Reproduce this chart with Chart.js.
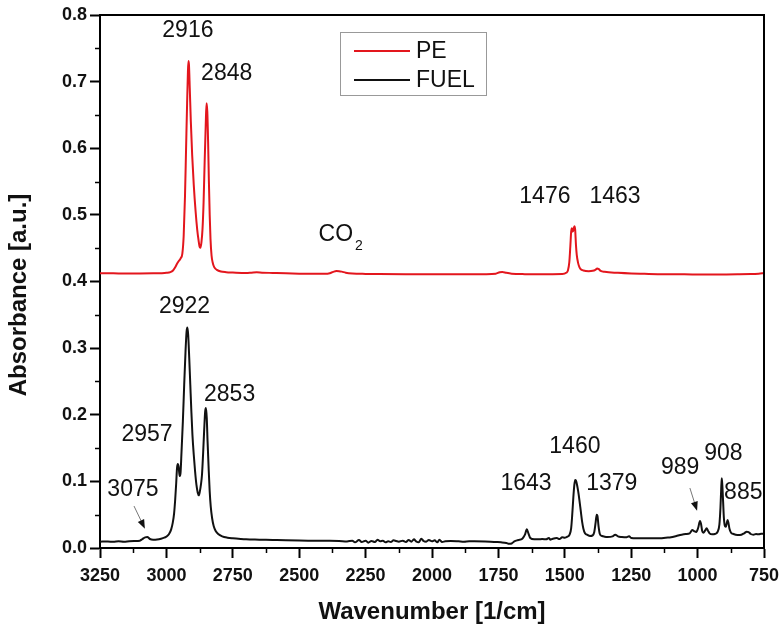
<!DOCTYPE html>
<html>
<head>
<meta charset="utf-8">
<script src="https://cdn.jsdelivr.net/npm/chart.js@4.4.1/dist/chart.umd.min.js"></script>
<style>
  html, body { margin: 0; padding: 0; background: #fff; }
  #wrap { width: 781px; height: 627px; }
</style>
</head>
<body>
<div id="wrap"><canvas id="chartFtir" width="781" height="627"></canvas></div>
<script>
// PE film spectrum
const peWave = [
  3250, 3200, 3150, 3100, 3050, 3020, 3000, 2985, 2975, 2968, 2960, 2952, 2946, 2940, 2935,
  2930, 2926, 2922, 2919, 2917, 2915, 2912, 2908, 2903, 2897, 2890, 2884, 2879, 2875, 2872,
  2868, 2864, 2860, 2856, 2852, 2849, 2846, 2843, 2840, 2837, 2834, 2830, 2826, 2820, 2810,
  2795, 2775, 2750, 2700, 2680, 2660, 2640, 2600, 2550, 2500, 2450, 2400, 2385, 2372, 2360,
  2350, 2340, 2325, 2300, 2250, 2200, 2100, 2000, 1900, 1800, 1760, 1745, 1735, 1720, 1700,
  1650, 1600, 1550, 1510, 1495, 1488, 1483, 1479, 1476, 1473, 1470, 1467, 1464, 1461, 1458,
  1455, 1450, 1445, 1440, 1430, 1410, 1395, 1385, 1378, 1372, 1365, 1350, 1300, 1250, 1200,
  1150, 1100, 1050, 1000, 950, 900, 850, 800, 770, 750
];
const peAbs = [
  0.4123, 0.4122, 0.4120, 0.4120, 0.4122, 0.4125, 0.4130, 0.4140, 0.4165, 0.4205, 0.4265, 0.4315, 0.4350, 0.4420, 0.4680,
  0.5280, 0.5980, 0.6680, 0.7140, 0.7310, 0.7250, 0.6900, 0.6400, 0.5900, 0.5450, 0.5050, 0.4780, 0.4620, 0.4520, 0.4505,
  0.4590, 0.4790, 0.5190, 0.5790, 0.6340, 0.6675, 0.6550, 0.6100, 0.5500, 0.5000, 0.4640, 0.4390, 0.4290, 0.4215, 0.4175,
  0.4150, 0.4140, 0.4135, 0.4128, 0.4132, 0.4137, 0.4133, 0.4128, 0.4122, 0.4118, 0.4115, 0.4115, 0.4125, 0.4145, 0.4157,
  0.4155, 0.4148, 0.4132, 0.4120, 0.4114, 0.4112, 0.4110, 0.4110, 0.4108, 0.4110, 0.4118, 0.4140, 0.4143, 0.4130, 0.4118,
  0.4110, 0.4108, 0.4110, 0.4112, 0.4130, 0.4170, 0.4290, 0.4540, 0.4750, 0.4800, 0.4750, 0.4780, 0.4830, 0.4780, 0.4550,
  0.4400, 0.4280, 0.4215, 0.4185, 0.4165, 0.4155, 0.4160, 0.4175, 0.4195, 0.4185, 0.4160, 0.4145, 0.4130, 0.4120, 0.4115,
  0.4110, 0.4108, 0.4108, 0.4106, 0.4105, 0.4106, 0.4108, 0.4112, 0.4118, 0.4125
];

// fuel oil spectrum
const fuelWave = [
  3250, 3220, 3200, 3180, 3160, 3140, 3120, 3100, 3090, 3080, 3072, 3062, 3050, 3035, 3020,
  3008, 2998, 2990, 2982, 2976, 2971, 2967, 2963, 2960, 2957, 2954, 2950, 2947, 2943, 2938,
  2933, 2928, 2924, 2921, 2918, 2914, 2910, 2906, 2902, 2897, 2892, 2887, 2882, 2878, 2874,
  2870, 2866, 2862, 2858, 2854, 2851, 2848, 2845, 2841, 2837, 2833, 2828, 2822, 2815, 2805,
  2790, 2770, 2750, 2720, 2700, 2650, 2600, 2550, 2500, 2450, 2400, 2350, 2320, 2300, 2290,
  2275, 2265, 2250, 2240, 2228, 2215, 2205, 2195, 2185, 2175, 2165, 2155, 2145, 2135, 2125,
  2110, 2098, 2088, 2078, 2068, 2060, 2050, 2040, 2032, 2022, 2012, 2000, 1990, 1980, 1972,
  1962, 1950, 1930, 1900, 1880, 1860, 1840, 1800, 1780, 1760, 1740, 1720, 1710, 1700, 1690,
  1675, 1660, 1650, 1643, 1637, 1630, 1615, 1600, 1585, 1570, 1560, 1555, 1545, 1530, 1520,
  1510, 1500, 1490, 1482, 1476, 1472, 1468, 1464, 1461, 1458, 1454, 1450, 1445, 1440, 1435,
  1430, 1424, 1416, 1405, 1395, 1389, 1384, 1380, 1377, 1373, 1368, 1360, 1350, 1340, 1320,
  1310, 1300, 1285, 1270, 1258, 1250, 1230, 1200, 1170, 1140, 1120, 1100, 1080, 1060, 1045,
  1030, 1020, 1012, 1005, 998, 991, 987, 983, 978, 972, 966, 961, 955, 945, 935,
  925, 918, 914, 911, 909, 907, 904, 901, 897, 893, 890, 887, 884, 880, 874,
  865, 850, 835, 825, 815, 808, 800, 790, 780, 770, 760, 750
];
const fuelAbs = [
  0.0095, 0.0098, 0.0092, 0.0100, 0.0095, 0.0102, 0.0105, 0.0110, 0.0135, 0.0160, 0.0165, 0.0135, 0.0125, 0.0128, 0.0140,
  0.0155, 0.0175, 0.0210, 0.0280, 0.0380, 0.0520, 0.0720, 0.0980, 0.1200, 0.1260, 0.1220, 0.1080, 0.1120, 0.1450, 0.1900,
  0.2450, 0.2950, 0.3250, 0.3310, 0.3200, 0.2850, 0.2450, 0.2050, 0.1700, 0.1400, 0.1150, 0.0950, 0.0830, 0.0790, 0.0850,
  0.0950, 0.1100, 0.1400, 0.1750, 0.2050, 0.2100, 0.1950, 0.1600, 0.1200, 0.0850, 0.0620, 0.0450, 0.0330, 0.0260, 0.0210,
  0.0175, 0.0155, 0.0145, 0.0135, 0.0130, 0.0125, 0.0120, 0.0115, 0.0112, 0.0110, 0.0108, 0.0105, 0.0098, 0.0110, 0.0085,
  0.0120, 0.0090, 0.0110, 0.0080, 0.0105, 0.0090, 0.0125, 0.0100, 0.0110, 0.0085, 0.0100, 0.0090, 0.0115, 0.0105, 0.0095,
  0.0110, 0.0090, 0.0120, 0.0095, 0.0130, 0.0100, 0.0085, 0.0140, 0.0105, 0.0095, 0.0120, 0.0100, 0.0115, 0.0085, 0.0125,
  0.0090, 0.0100, 0.0105, 0.0100, 0.0095, 0.0100, 0.0100, 0.0098, 0.0095, 0.0090, 0.0085, 0.0075, 0.0062, 0.0068, 0.0100,
  0.0120, 0.0140, 0.0200, 0.0280, 0.0220, 0.0150, 0.0130, 0.0130, 0.0135, 0.0130, 0.0150, 0.0125, 0.0140, 0.0150, 0.0135,
  0.0160, 0.0155, 0.0170, 0.0200, 0.0300, 0.0500, 0.0750, 0.0950, 0.1020, 0.1010, 0.0950, 0.0860, 0.0720, 0.0560, 0.0400,
  0.0290, 0.0220, 0.0200, 0.0180, 0.0190, 0.0240, 0.0380, 0.0500, 0.0480, 0.0330, 0.0210, 0.0180, 0.0170, 0.0165, 0.0175,
  0.0200, 0.0175, 0.0165, 0.0160, 0.0175, 0.0150, 0.0145, 0.0145, 0.0145, 0.0145, 0.0155, 0.0160, 0.0180, 0.0200, 0.0210,
  0.0220, 0.0270, 0.0250, 0.0240, 0.0300, 0.0405, 0.0360, 0.0260, 0.0230, 0.0260, 0.0295, 0.0260, 0.0220, 0.0205, 0.0210,
  0.0240, 0.0350, 0.0600, 0.0900, 0.1046, 0.0950, 0.0700, 0.0450, 0.0330, 0.0320, 0.0380, 0.0420, 0.0380, 0.0290, 0.0230,
  0.0210, 0.0195, 0.0200, 0.0220, 0.0245, 0.0240, 0.0210, 0.0200, 0.0210, 0.0205, 0.0215, 0.0215
];

const seriesNames = ["PE", "FUEL"];
const seriesColors = ["#e3161d", "#111111"];

// band assignments written next to the peaks (wavenumber, absorbance of the text centre)
const peakNotes = [
  { text: "2916", w: 2919, a: 0.777 },
  { text: "2848", w: 2773, a: 0.712 },
  { text: "1476", w: 1575, a: 0.527 },
  { text: "1463", w: 1311, a: 0.527 },
  { text: "2922", w: 2932, a: 0.362 },
  { text: "2853", w: 2762, a: 0.230 },
  { text: "2957", w: 3073, a: 0.170 },
  { text: "3075", w: 3126, a: 0.088 },
  { text: "1460", w: 1462, a: 0.152 },
  { text: "1643", w: 1646, a: 0.097 },
  { text: "1379", w: 1323, a: 0.097 },
  { text: "989",  w: 1066, a: 0.120 },
  { text: "908",  w: 903,  a: 0.142 },
  { text: "885",  w: 828,  a: 0.083 }
];
const peakArrows = [
  { from: [3122, 0.063], to: [3081, 0.029] },
  { from: [1029, 0.090], to: [1002, 0.056] }
];

const toPoints = (xs, ys) => xs.map((w, i) => ({ x: w, y: ys[i] }));

const ftirDecor = {
  id: "ftirDecor",
  afterDraw(chart){
    const { ctx, chartArea: a, scales: { x, y } } = chart;
    ctx.save();

    // closing frame on top and right
    ctx.strokeStyle = "#000";
    ctx.lineWidth = 2;
    ctx.beginPath();
    ctx.moveTo(a.left, a.top);
    ctx.lineTo(a.right, a.top);
    ctx.lineTo(a.right, a.bottom);
    ctx.stroke();

    // minor ticks
    ctx.lineWidth = 1.5;
    ctx.beginPath();
    for (let v = 0.05; v < 0.8; v += 0.1){
      const py = Math.round(y.getPixelForValue(v)) + 0.5;
      ctx.moveTo(a.left - 5, py);
      ctx.lineTo(a.left, py);
    }
    for (let w = 3125; w > 750; w -= 250){
      const px = Math.round(x.getPixelForValue(w)) + 0.5;
      ctx.moveTo(px, a.bottom);
      ctx.lineTo(px, a.bottom + 5);
    }
    ctx.stroke();

    // y axis title
    ctx.fillStyle = "#111";
    ctx.font = "bold 24px 'Liberation Sans', Arial, sans-serif";
    ctx.textAlign = "center";
    ctx.textBaseline = "middle";
    ctx.translate(19, 295);
    ctx.rotate(-Math.PI / 2);
    ctx.fillText("Absorbance [a.u.]", 0, 0);
    ctx.setTransform(1, 0, 0, 1, 0, 0);

    // peak labels
    ctx.font = "23px 'Liberation Sans', Arial, sans-serif";
    peakNotes.forEach(n => {
      ctx.fillText(n.text, x.getPixelForValue(n.w), y.getPixelForValue(n.a));
    });

    // CO2 with subscript
    const cx = x.getPixelForValue(2361), cy = y.getPixelForValue(0.470);
    ctx.textAlign = "right";
    ctx.fillText("CO", cx + 17, cy);
    ctx.textAlign = "left";
    ctx.font = "14px 'Liberation Sans', Arial, sans-serif";
    ctx.fillText("2", cx + 19, cy + 11);

    // pointer arrows
    peakArrows.forEach(ar => {
      const x0 = x.getPixelForValue(ar.from[0]), y0 = y.getPixelForValue(ar.from[1]);
      const x1 = x.getPixelForValue(ar.to[0]), y1 = y.getPixelForValue(ar.to[1]);
      const ang = Math.atan2(y1 - y0, x1 - x0);
      ctx.strokeStyle = "#777";
      ctx.lineWidth = 1;
      ctx.beginPath();
      ctx.moveTo(x0, y0);
      ctx.lineTo(x1 - 6 * Math.cos(ang), y1 - 6 * Math.sin(ang));
      ctx.stroke();
      ctx.fillStyle = "#111";
      ctx.beginPath();
      ctx.moveTo(x1, y1);
      ctx.lineTo(x1 - 9 * Math.cos(ang) + 3.5 * Math.sin(ang), y1 - 9 * Math.sin(ang) - 3.5 * Math.cos(ang));
      ctx.lineTo(x1 - 9 * Math.cos(ang) - 3.5 * Math.sin(ang), y1 - 9 * Math.sin(ang) + 3.5 * Math.cos(ang));
      ctx.closePath();
      ctx.fill();
    });

    // legend box
    ctx.strokeStyle = "#999";
    ctx.lineWidth = 1;
    ctx.strokeRect(340.5, 32.5, 146, 63);
    ctx.font = "23px 'Liberation Sans', Arial, sans-serif";
    ctx.textAlign = "left";
    ctx.textBaseline = "middle";
    chart.data.datasets.forEach((ds, i) => {
      const ly = 51 + i * 29;
      ctx.strokeStyle = ds.borderColor;
      ctx.lineWidth = 2;
      ctx.beginPath();
      ctx.moveTo(354, ly);
      ctx.lineTo(410, ly);
      ctx.stroke();
      ctx.fillStyle = "#111";
      ctx.fillText(ds.label, 416, ly + 1);
    });

    ctx.restore();
  }
};

new Chart(document.getElementById("chartFtir"), {
  type: "line",
  data: {
    datasets: [
      { label: seriesNames[0], data: toPoints(peWave, peAbs), borderColor: seriesColors[0] },
      { label: seriesNames[1], data: toPoints(fuelWave, fuelAbs), borderColor: seriesColors[1] }
    ]
  },
  options: {
    responsive: false,
    animation: false,
    devicePixelRatio: 1,
    layout: { padding: { top: 15, right: 17, left: 0, bottom: 0 } },
    elements: {
      point: { radius: 0 },
      line: { borderWidth: 2, cubicInterpolationMode: "monotone", fill: false }
    },
    plugins: {
      legend: { display: false },
      tooltip: { enabled: false }
    },
    scales: {
      x: {
        type: "linear",
        reverse: true,
        min: 750,
        max: 3250,
        afterFit(scale){
          scale.height = 79;
          scale.paddingLeft = 0;
          scale.paddingRight = 0;
        },
        ticks: {
          stepSize: 250,
          padding: 7,
          color: "#111",
          font: { family: "'Liberation Sans', Arial, sans-serif", size: 18, weight: "bold" },
          callback: v => String(v)
        },
        grid: { drawOnChartArea: false, drawTicks: true, tickLength: 10, tickColor: "#000", tickWidth: 2 },
        border: { display: true, color: "#000", width: 2 },
        title: {
          display: true,
          text: "Wavenumber [1/cm]",
          color: "#111",
          font: { family: "'Liberation Sans', Arial, sans-serif", size: 24, weight: "bold" },
          padding: { top: 0, bottom: 0 }
        }
      },
      y: {
        min: 0,
        max: 0.8,
        afterFit(scale){ scale.width = 100; },
        ticks: {
          stepSize: 0.1,
          padding: 3,
          color: "#111",
          font: { family: "'Liberation Sans', Arial, sans-serif", size: 18, weight: "bold" },
          callback: v => Number(v).toFixed(1)
        },
        grid: { drawOnChartArea: false, drawTicks: true, tickLength: 10, tickColor: "#000", tickWidth: 2 },
        border: { display: true, color: "#000", width: 2 }
      }
    }
  },
  plugins: [ftirDecor]
});
</script>
</body>
</html>
